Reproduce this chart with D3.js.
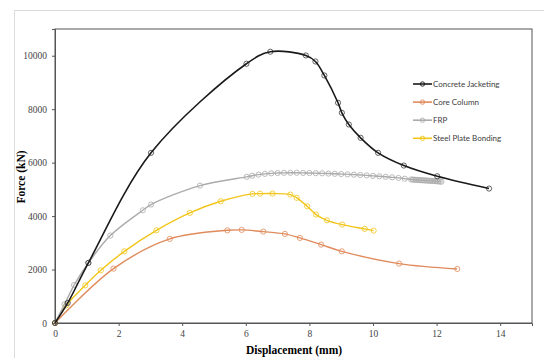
<!DOCTYPE html>
<html>
<head>
<meta charset="utf-8">
<script src="https://cdn.jsdelivr.net/npm/d3@7"></script>
<style>
  body { margin: 0; background: #fff; }
  svg { display: block; }
</style>
</head>
<body>
<svg id="chart"></svg>
<script>
// values
var concreteX = [0, 0.4, 1.05, 3.02, 6.02, 6.77, 7.89, 8.19, 8.47, 8.9, 9.02, 9.24, 9.61, 10.16, 10.97, 12.02, 13.65];
var concreteY = [0, 750, 2250, 6367, 9700, 10150, 10010, 9785, 9262, 8240, 7865, 7427, 6929, 6367, 5891, 5490, 5030];

var coreX = [0, 1.84, 3.61, 5.42, 5.87, 6.55, 7.23, 7.7, 8.37, 9.02, 10.82, 12.65];
var coreY = [0, 2034, 3146, 3468, 3483, 3419, 3333, 3183, 2933, 2682, 2221, 2022];

var frpX = [0, 0.3, 0.6, 1.05, 1.74, 2.76, 3.02, 4.56, 6.03, 6.2, 6.4, 6.6, 6.8, 7.0, 7.2, 7.4, 7.6, 7.8, 8.0, 8.2, 8.4, 8.6, 8.8, 9.0,
            9.2, 9.4, 9.6, 9.8, 10.0, 10.2, 10.4, 10.6, 10.8, 11.0, 11.2, 11.25, 11.3, 11.35, 11.4, 11.45, 11.5, 11.55, 11.6,
            11.65, 11.7, 11.75, 11.8, 11.85, 11.9, 11.95, 12.0, 12.05, 12.1, 12.15];
var frpY = [0, 700, 1420, 2247, 3270, 4217, 4431, 5142, 5468, 5510, 5550, 5580, 5600, 5610, 5618, 5620, 5620, 5616, 5612, 5606, 5600, 5592, 5582, 5572,
            5562, 5550, 5536, 5522, 5506, 5490, 5470, 5450, 5428, 5400, 5370, 5365, 5360, 5356, 5352, 5348, 5344, 5340, 5336,
            5332, 5328, 5324, 5320, 5316, 5312, 5308, 5304, 5298, 5292, 5285];

var steelX = [0, 0.35, 0.95, 1.44, 2.18, 3.19, 4.24, 5.21, 6.21, 6.45, 6.84, 7.4, 7.6, 7.93, 8.21, 8.55, 9.03, 9.74, 10.02];
var steelY = [0, 660, 1408, 1970, 2682, 3468, 4120, 4554, 4831, 4840, 4843, 4805, 4682, 4367, 4056, 3843, 3682, 3521, 3457];

var seriesNames = ["Concrete Jacketing", "Core Column", "FRP", "Steel Plate Bonding"];
var seriesColors = ["#1a1a1a", "#e08b5c", "#ababab", "#f2c51a"];
var xTicks = [0, 2, 4, 6, 8, 10, 12, 14];
var yTicks = [0, 2000, 4000, 6000, 8000, 10000];

var width = 544, height = 358;
var margin = { top: 29, right: 12, bottom: 35, left: 55 };

var svg = d3.select("#chart")
    .attr("width", width)
    .attr("height", height);

// faint outer frame of the figure
svg.append("rect")
    .attr("x", 14.5).attr("y", 10.5)
    .attr("width", 600).attr("height", 400)
    .attr("fill", "none")
    .attr("stroke", "#dcdcdc");

var x = d3.scaleLinear().domain([0, 15]).range([margin.left, width - margin.right]);
var y = d3.scaleLinear().domain([0, 11000]).range([height - margin.bottom, margin.top]);

// plot box
svg.append("rect")
    .attr("x", x(0)).attr("y", y(11000))
    .attr("width", x(15) - x(0)).attr("height", y(0) - y(11000))
    .attr("fill", "none")
    .attr("stroke", "#555")
    .attr("stroke-width", 1);

var xAxis = svg.append("g")
    .attr("transform", "translate(0," + y(0) + ")")
    .call(d3.axisBottom(x).tickValues(xTicks).tickSize(3).tickPadding(4).tickFormat(d3.format("d")));
var yAxis = svg.append("g")
    .attr("transform", "translate(" + x(0) + ",0)")
    .call(d3.axisLeft(y).tickValues(yTicks).tickSize(3).tickPadding(5).tickFormat(d3.format("d")));

[xAxis, yAxis].forEach(function (a) {
    a.select(".domain").attr("stroke", "#555");
    a.selectAll(".tick line").attr("stroke", "#555");
    a.selectAll("text")
        .attr("fill", "#444")
        .style("font-family", "'Liberation Serif', 'DejaVu Serif', serif")
        .style("font-size", "9.5px");
});

// axis titles
svg.append("text")
    .attr("x", 294).attr("y", 354)
    .attr("text-anchor", "middle")
    .style("font-family", "'Liberation Serif', serif")
    .style("font-size", "11.5px")
    .style("font-weight", "bold")
    .text("Displacement (mm)");

svg.append("text")
    .attr("transform", "translate(25,177) rotate(-90)")
    .attr("text-anchor", "middle")
    .style("font-family", "'Liberation Serif', serif")
    .style("font-size", "11.5px")
    .style("font-weight", "bold")
    .text("Force (kN)");

var allSeries = [
    { xs: concreteX, ys: concreteY },
    { xs: coreX, ys: coreY },
    { xs: frpX, ys: frpY },
    { xs: steelX, ys: steelY }
];

var line = d3.line()
    .x(function (d) { return x(d[0]); })
    .y(function (d) { return y(d[1]); })
    .curve(d3.curveCatmullRom.alpha(0.5));

// draw in reverse so black sits on top
[1, 3, 2, 0].forEach(function (i) {
    var s = allSeries[i];
    var pts = s.xs.map(function (v, j) { return [v, s.ys[j]]; });
    var g = svg.append("g");
    g.append("path")
        .datum(pts)
        .attr("d", line)
        .attr("fill", "none")
        .attr("stroke", seriesColors[i])
        .attr("stroke-width", i == 0 ? 1.6 : 1.4);
    g.selectAll("circle")
        .data(pts)
        .enter()
        .append("circle")
        .attr("cx", function (d) { return x(d[0]); })
        .attr("cy", function (d) { return y(d[1]); })
        .attr("r", 2.6)
        .attr("fill", "none")
        .attr("stroke", seriesColors[i])
        .attr("stroke-width", 0.9)
        .attr("opacity", i == 0 ? 0.75 : 0.9);
});

// legend
var legend = svg.append("g");
seriesNames.forEach(function (name, i) {
    var ly = 84 + i * 18.1;
    legend.append("line")
        .attr("x1", 413).attr("x2", 432)
        .attr("y1", ly).attr("y2", ly)
        .attr("stroke", seriesColors[i])
        .attr("stroke-width", 1.6);
    legend.append("circle")
        .attr("cx", 422.5).attr("cy", ly).attr("r", 2.2)
        .attr("fill", "none")
        .attr("stroke", seriesColors[i])
        .attr("stroke-width", 0.9);
    legend.append("text")
        .attr("x", 433).attr("y", ly + 2.8)
        .attr("fill", "#404040")
        .style("font-family", "Lato, 'Open Sans', sans-serif")
        .style("font-size", "8px")
        .text(name);
});
</script>
</body>
</html>
